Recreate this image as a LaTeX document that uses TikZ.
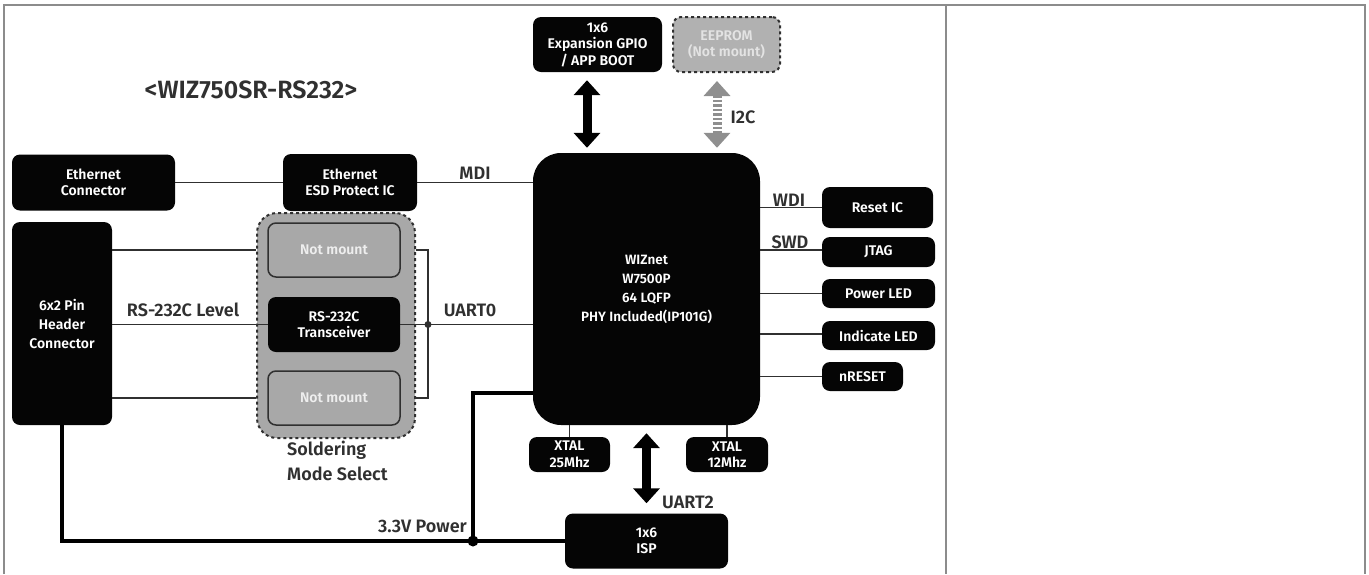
\documentclass[tikz,border=0pt]{standalone}
\usepackage{fontspec}
\setmainfont{Fira Sans}[BoldFont={Fira Sans SemiBold}]
\usetikzlibrary{arrows.meta,positioning}
\definecolor{wblack}{HTML}{050505}
\definecolor{wgrey}{HTML}{A8A8A8}
\definecolor{wline}{HTML}{303030}
\definecolor{wframe}{HTML}{8C8C8C}
\definecolor{wtext}{HTML}{EEEEEE}

\begin{document}
\begin{tikzpicture}[x=1pt, y=-1pt,
    blk/.style={rectangle, fill=wblack, text=white, rounded corners=8pt, font=\fontsize{14}{16.5}\selectfont\bfseries, align=center, inner sep=0pt},
    nmbox/.style={blk, fill=wgrey, draw=wline, line width=1.5pt, text=wtext},
    wire/.style={draw=wline, line width=1.6pt},
    pwr/.style={draw=black, line width=4pt},
    fat/.style={line width=9pt, {Triangle[width=26pt,length=15pt]}-{Triangle[width=26pt,length=15pt]}},
    lbl/.style={font=\fontsize{18}{21}\selectfont\bfseries, text=wline, inner sep=0pt}
]
    \useasboundingbox (0,0) rectangle (1369,574);

    % Table frame
    \draw[wframe, line width=1.5pt] (4,574) -- (4,5) -- (1365,5) -- (1365,574);
    \draw[wframe, line width=1.5pt] (946,5) -- (946,574);

    % Title
    \node[font=\fontsize{25}{30}\selectfont\bfseries, text=wline] (title) at (251,90) {<WIZ750SR-RS232>};

    % Blocks
    \node[blk, minimum width=163pt, minimum height=56pt] (eth) at (93.5,182.5) {Ethernet\\Connector};
    \node[blk, minimum width=134pt, minimum height=57pt] (esd) at (350,182.5) {Ethernet\\ESD Protect IC};
    \node[blk, rounded corners=28pt, minimum width=227pt, minimum height=272pt, font=\fontsize{13.5}{19}\selectfont\bfseries] (mcu) at (646.5,289) {WIZnet\\W7500P\\64 LQFP\\PHY Included(IP101G)};
    \node[blk, minimum width=129pt, minimum height=55pt] (gpio) at (597.5,44.5) {1x6\\Expansion GPIO\\/ APP BOOT};
    \node[nmbox, dashed, line width=2pt, fill=wgrey!90, text=wtext!85!wgrey, minimum width=107pt, minimum height=55pt] (eeprom) at (726.5,44.5) {EEPROM\\(Not mount)};
    \node[blk, minimum width=111pt, minimum height=41pt] (rst) at (877.5,207.5) {Reset IC};
    \node[blk, minimum width=113pt, minimum height=30pt] (jtag) at (878.5,252) {JTAG};
    \node[blk, minimum width=113pt, minimum height=29pt] (pled) at (878.5,293.5) {Power LED};
    \node[blk, minimum width=113pt, minimum height=29pt] (iled) at (878.5,335.5) {Indicate LED};
    \node[blk, minimum width=81pt, minimum height=29pt] (nrst) at (862.5,376.5) {nRESET};
    \node[blk, minimum width=81pt, minimum height=35pt] (x25) at (569.5,454.5) {XTAL\\25Mhz};
    \node[blk, minimum width=82pt, minimum height=35pt] (x12) at (727,454.5) {XTAL\\12Mhz};
    \node[blk, minimum width=163pt, minimum height=55pt] (isp) at (646.5,541) {1x6\\ISP};
    \node[blk, minimum width=100pt, minimum height=203pt, font=\fontsize{14}{19}\selectfont\bfseries] (hdr) at (62,323.5) {6x2 Pin\\Header\\Connector};

    % Soldering mode select
    \node[draw=wline, dashed, line width=2pt, fill=wgrey, rounded corners=20pt, minimum width=158pt, minimum height=225pt] (grp) at (336,325.5) {};
    \node[nmbox, minimum width=132pt, minimum height=54pt] (nma) at (334,250) {Not mount};
    \node[blk, minimum width=132pt, minimum height=55pt] (xcvr) at (334,324.5) {RS-232C\\Transceiver};
    \node[nmbox, minimum width=132pt, minimum height=54pt] (nmb) at (334,398) {Not mount};
    \node[lbl, align=left, anchor=north west, font=\fontsize{18}{25}\selectfont\bfseries] (solder) at (287,441) {Soldering\\Mode Select};

    % Wires
    \draw[wire] (eth) -- (esd);
    \draw[wire] (esd) -- (mcu.west |- esd);
    \draw[wire] (hdr.east |- nma) -- (grp.west |- nma);
    \draw[wire] (hdr.east |- xcvr) -- (xcvr.west);
    \draw[wire] (hdr.east |- nmb) -- (grp.west |- nmb);
    \coordinate (bus) at (428,324.5);
    \draw[wire] (grp.east |- nma) -| (bus) |- (grp.east |- nmb);
    \draw[wire] (xcvr.east) -- (mcu.west |- xcvr);
    \fill[wline] (bus) circle (3.5pt);
    \draw[wire] (mcu.east |- rst) -- (rst.west);
    \draw[wire] (mcu.east |- 0,250) -- (jtag.west |- 0,250);
    \draw[wire] (mcu.east |- pled) -- (pled.west);
    \draw[wire] (mcu.east |- 0,334) -- (iled.west |- 0,334);
    \draw[wire] (mcu.east |- nrst) -- (nrst.west);
    \draw[wire] (x25.north) -- (x25.north |- mcu.south);
    \draw[wire] (x12.north) -- (x12.north |- mcu.south);

    % 3.3V power
    \coordinate (pj) at (473,541);
    \coordinate (pturn) at (473,393);
    \draw[pwr] (hdr.south) -- (hdr.south |- pj) -- (isp.west);
    \draw[pwr] (pj) -- (pturn) -- (mcu.west |- pturn);
    \fill[black] (pj) circle (5.5pt);

    % Bus arrows
    \draw[fat, black] ([xshift=-10.5pt,yshift=-8pt]gpio.south) -- ([xshift=-10.5pt,yshift=5pt]gpio.south |- mcu.north);
    \draw[fat, wgrey!85!black, dash pattern=on 2.5pt off 2pt] ([xshift=-9.5pt,yshift=-8pt]eeprom.south) -- ([xshift=-9.5pt,yshift=5pt]eeprom.south |- mcu.north);
    \draw[fat, black] ([yshift=-8pt]mcu.south) -- ([yshift=10pt]isp.north);

    % Labels
    \node[lbl] (mdi) at (475,173) {MDI};
    \node[lbl] (uart0) at (470,310) {UART0};
    \node[lbl] (wdi) at (789,200) {WDI};
    \node[lbl] (swd) at (790,242) {SWD};
    \node[lbl] (i2c) at (743,117) {I2C};
    \node[lbl] (uart2) at (688,502) {UART2};
    \node[lbl] (level) at (183,310) {RS-232C Level};
    \node[lbl, anchor=south east] (power) at (467,533) {3.3V Power};

\end{tikzpicture}
\end{document}
